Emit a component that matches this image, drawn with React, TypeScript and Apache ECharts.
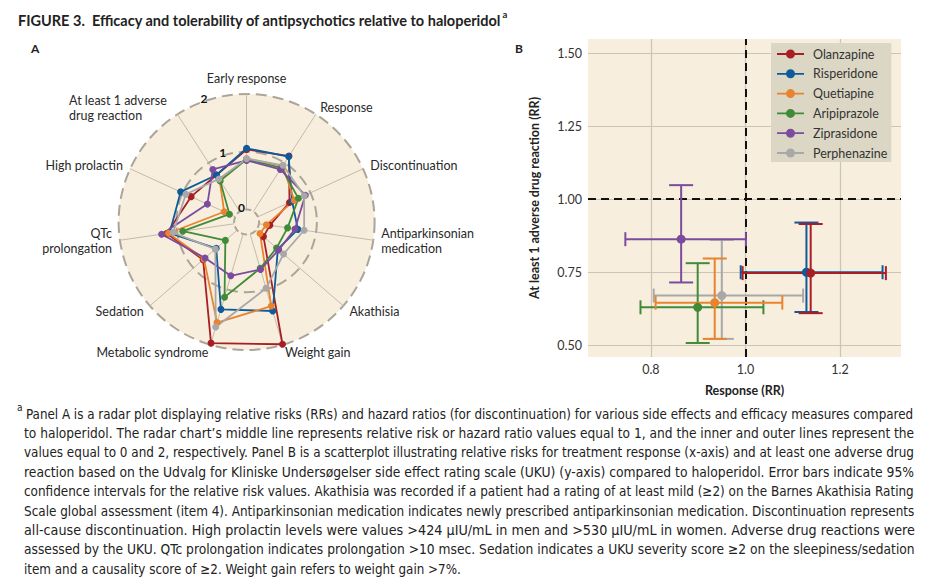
import React, { useEffect, useRef } from 'react';
import * as echarts from 'echarts';

// ---------- data ----------
const drugs = ['Olanzapine', 'Risperidone', 'Quetiapine', 'Aripiprazole', 'Ziprasidone', 'Perphenazine'];
const drugColors = ['#a81e25', '#0d5b9b', '#e8832f', '#408b37', '#7b4c9d', '#a8a8a8'];

// clockwise from the top
const radarAxes = [
  'Early response', 'Response', 'Discontinuation', 'Antiparkinsonian\nmedication', 'Akathisia',
  'Weight gain', 'Metabolic syndrome', 'Sedation', 'QTc\nprolongation', 'High prolactin',
  'At least 1 adverse\ndrug reaction',
];
const olanzapineRadar = [1.04, 1.14, 0.60, 0.19, 0.17, 1.99, 1.97, 0.78, 1.18, 0.84, 0.75];
const risperidoneRadar = [1.06, 1.13, 0.65, 0.68, 0.50, 1.39, 1.36, 0.48, 1.13, 1.04, 0.75];
const quetiapineRadar = [0.88, 0.94, 0.69, 0.13, 0.09, 1.30, 1.60, 0.76, 1.15, 0.21, 0.645];
const aripiprazoleRadar = [0.87, 0.90, 0.77, 0.50, 0.47, 0.62, 1.14, 0.27, 0.90, 0.11, 0.63];
const ziprasidoneRadar = [0.85, 0.865, 0.90, 0.63, 0.52, 0.64, 0.755, 0.735, 1.27, 0.53, 0.865];
const perphenazineRadar = [0.88, 0.95, 0.88, 0.79, 0.63, 0.98, 1.68, 0.50, 1.07, 0.94, 0.67];
const radarRings = [0, 1, 2];

const responseRR = [1.138, 1.129, 0.935, 0.899, 0.864, 0.950];
const responseLow = [0.994, 0.990, 0.810, 0.778, 0.746, 0.806];
const responseHigh = [1.297, 1.290, 1.078, 1.038, 1.001, 1.122];
const adrRR = [0.747, 0.750, 0.646, 0.630, 0.863, 0.670];
const adrLow = [0.610, 0.614, 0.522, 0.508, 0.715, 0.522];
const adrHigh = [0.915, 0.920, 0.797, 0.781, 1.048, 0.861];

const titleText = 'FIGURE 3.  Efficacy and tolerability of antipsychotics relative to haloperidol';
const captionLines = [
  'Panel A is a radar plot displaying relative risks (RRs) and hazard ratios (for discontinuation) for various side effects and efficacy measures compared',
  'to haloperidol. The radar chart\u2019s middle line represents relative risk or hazard ratio values equal to 1, and the inner and outer lines represent the',
  'values equal to 0 and 2, respectively. Panel B is a scatterplot illustrating relative risks for treatment response (x-axis) and at least one adverse drug',
  'reaction based on the Udvalg for Kliniske Unders\u00f8gelser side effect rating scale (UKU) (y-axis) compared to haloperidol. Error bars indicate 95%',
  'confidence intervals for the relative risk values. Akathisia was recorded if a patient had a rating of at least mild (\u22652) on the Barnes Akathisia Rating',
  'Scale global assessment (item 4). Antiparkinsonian medication indicates newly prescribed antiparkinsonian medication. Discontinuation represents',
  'all-cause discontinuation. High prolactin levels were values >424 \u03bcIU/mL in men and >530 \u03bcIU/mL in women. Adverse drug reactions were',
  'assessed by the UKU. QTc prolongation indicates prolongation >10 msec. Sedation indicates a UKU severity score \u22652 on the sleepiness/sedation',
  'item and a causality score of \u22652. Weight gain refers to weight gain >7%.',
];

// ---------- layout ----------
const W = 933;
const H = 581;
const BEIGE = '#f8eedd';
const FONT = 'Lato, "Open Sans", sans-serif';
const CAP_FONT = '"Liberation Sans Narrow", "DejaVu Sans Condensed", Lato, sans-serif';
const RC = [246.6, 222];
const RR = 128;
const RMIN = -0.2165;
const RMAX = 2;
const rOf = (v: number) => (RR * (v - RMIN)) / (RMAX - RMIN);

function measure(text: string, font: string) {
  const c = document.createElement('canvas').getContext('2d');
  if (!c) return text.length * 6;
  c.font = font;
  return c.measureText(text).width;
}

const legendIcon = 'path://M0,3.6H27V5.4H0Z M9,4.5A4.5,4.5,0,1,1,18,4.5A4.5,4.5,0,1,1,9,4.5Z';

export default function App() {
  const ref = useRef<HTMLDivElement>(null);
  useEffect(() => {
    if (!ref.current) return;
    const chart = echarts.init(ref.current, undefined, { renderer: 'svg' });

    // ECharts lays radar indicators out counter-clockwise; reorder to go clockwise.
    const n = radarAxes.length;
    const order = radarAxes.map((_, k) => (k === 0 ? 0 : n - k));
    const reorder = (arr: any[]) => order.map((k) => arr[k]);

    const radarSeriesData = [olanzapineRadar, risperidoneRadar, quetiapineRadar, aripiprazoleRadar, ziprasidoneRadar, perphenazineRadar]
      .map((vals, i) => ({
        name: drugs[i],
        value: reorder(vals),
        lineStyle: { color: drugColors[i], width: 1.8 },
        itemStyle: { color: drugColors[i] },
      }));

    const graphics: any[] = [];
    // radar disc background
    graphics.push({
      type: 'circle', z: -1,
      shape: { cx: RC[0], cy: RC[1], r: RR },
      style: { fill: BEIGE, stroke: 'none' },
    });
    graphics.push({
      type: 'circle', z: 2,
      shape: { cx: RC[0], cy: RC[1], r: rOf(radarRings[0]) },
      style: { fill: BEIGE, stroke: '#aba599', lineWidth: 2, lineDash: [6, 3.5] },
    });
    graphics.push({
      type: 'circle', z: 2,
      shape: { cx: RC[0], cy: RC[1], r: rOf(radarRings[1]) },
      style: { fill: 'none', stroke: '#aba599', lineWidth: 2, lineDash: [11, 6] },
    });
    const ang = (19 * Math.PI) / 180;
    radarRings.forEach((v) => {
      const rr = rOf(v) + 3;
      graphics.push({
        type: 'text', z: 5,
        x: RC[0] - rr * Math.sin(ang), y: RC[1] - rr * Math.cos(ang),
        style: { text: String(v), font: `bold 12px ${FONT}`, fill: '#111', align: 'center', verticalAlign: 'middle' },
      });
    });

    // title
    const titleFont = `bold 14.5px ${FONT}`;
    const tw = measure(titleText, titleFont);
    graphics.push({ type: 'text', x: 18, y: 20, style: { text: titleText, font: titleFont, fill: '#222', verticalAlign: 'middle' } });
    graphics.push({ type: 'text', x: 18 + tw + 1, y: 14, style: { text: 'a', font: `bold 9.5px ${FONT}`, fill: '#222', verticalAlign: 'middle' } });
    graphics.push({ type: 'text', x: 31, y: 48, style: { text: 'A', font: `bold 12px ${FONT}`, fill: '#222', verticalAlign: 'middle' } });
    graphics.push({ type: 'text', x: 515, y: 48, style: { text: 'B', font: `bold 12px ${FONT}`, fill: '#222', verticalAlign: 'middle' } });

    // caption (justified by stretching each full line to the column width)
    const capFont = `14px ${CAP_FONT}`;
    graphics.push({ type: 'text', x: 17, y: 407, style: { text: 'a', font: `10px ${CAP_FONT}`, fill: '#222', verticalAlign: 'middle' } });
    const firstScale = (915 - 26) / measure(captionLines[0], capFont);
    captionLines.forEach((line, i) => {
      const left = i === 0 ? 26 : 24;
      const right = 915;
      const last = i === captionLines.length - 1;
      const sx = last ? firstScale : (right - left) / measure(line, capFont);
      graphics.push({
        type: 'text', x: left, y: 413.5 + i * 19.4, scaleX: sx,
        style: { text: line, font: capFont, fill: '#222', verticalAlign: 'middle' },
      });
    });

    const errorSeries = drugs.map((d, i) => ({
      type: 'custom',
      name: d,
      xAxisIndex: 0, yAxisIndex: 0,
      z: 2 + (drugs.length - i) * 0.01,
      data: [[responseRR[i], adrRR[i], responseLow[i], responseHigh[i], adrLow[i], adrHigh[i]]],
      encode: { x: 0, y: 1 },
      itemStyle: { color: drugColors[i] },
      renderItem: (params: any, api: any) => {
        const x = api.value(0), y = api.value(1);
        const pl = api.coord([api.value(2), y]);
        const pr = api.coord([api.value(3), y]);
        const pb = api.coord([x, api.value(4)]);
        const pt = api.coord([x, api.value(5)]);
        const style = { stroke: drugColors[i], lineWidth: 2, fill: 'none' };
        const hc = 7, vc = 12;
        const ln = (x1: number, y1: number, x2: number, y2: number) => ({ type: 'line', shape: { x1, y1, x2, y2 }, style });
        return {
          type: 'group',
          children: [
            ln(pl[0], pl[1], pr[0], pr[1]),
            ln(pl[0], pl[1] - hc, pl[0], pl[1] + hc),
            ln(pr[0], pr[1] - hc, pr[0], pr[1] + hc),
            ln(pb[0], pb[1], pt[0], pt[1]),
            ln(pb[0] - vc, pb[1], pb[0] + vc, pb[1]),
            ln(pt[0] - vc, pt[1], pt[0] + vc, pt[1]),
          ],
        };
      },
    }));
    const pointSeries = drugs.map((d, i) => ({
      type: 'scatter',
      name: d,
      z: 4 + (drugs.length - i) * 0.01,
      symbol: 'circle',
      symbolSize: 9,
      itemStyle: { color: drugColors[i], opacity: 1 },
      data: [[responseRR[i], adrRR[i]]],
      ...(i === 0
        ? {
            markLine: {
              silent: true,
              symbol: ['none', 'none'],
              label: { show: false },
              lineStyle: { color: '#111', type: [8, 5], width: 2 },
              data: [{ xAxis: 1 }, { yAxis: 1 }],
              z: 1,
            },
          }
        : {}),
    }));

    const option: any = {
      animation: false,
      backgroundColor: '#ffffff',
      textStyle: { fontFamily: FONT },
      radar: {
        center: RC,
        radius: RR,
        startAngle: 90,
        shape: 'circle',
        splitNumber: 1,
        z: 1,
        nameGap: 8,
        indicator: reorder(radarAxes).map((nm: string) => ({ name: nm, min: RMIN, max: RMAX })),
        axisName: {
          color: '#2a2a2a',
          fontSize: 12.5,
          fontFamily: FONT,
          lineHeight: 15,
          formatter: (name: string) =>
            name.indexOf('At least') === 0 ? name.split('\n').map((s) => `{l|${s}}`).join('\n') : name,
          rich: { l: { width: 104, align: 'left', fontSize: 12.5, fontFamily: FONT, color: '#2a2a2a', lineHeight: 15 } },
        },
        axisLine: { lineStyle: { color: '#c2bbad', width: 1 } },
        axisTick: { show: false },
        axisLabel: { show: false },
        splitLine: { lineStyle: { color: '#aba599', width: 2, type: [11, 6] } },
        splitArea: { show: false },
      },
      grid: { left: 588, top: 39, width: 313, height: 318, show: true, backgroundColor: BEIGE, borderWidth: 0 },
      xAxis: {
        type: 'value', min: 0.667, max: 1.329, minInterval: 0.2, maxInterval: 0.2,
        name: 'Response (RR)', nameLocation: 'middle', nameGap: 27,
        nameTextStyle: { fontWeight: 'bold', fontSize: 12.5, color: '#222', fontFamily: FONT },
        axisLine: { show: false }, axisTick: { show: false },
        axisLabel: { color: '#333', fontSize: 12.5, fontFamily: FONT, showMinLabel: false, showMaxLabel: false, formatter: (v: number) => v.toFixed(1), margin: 6 },
        splitLine: { show: true, showMinLine: false, showMaxLine: false, lineStyle: { color: '#cbc4b7', width: 1.2 } },
      },
      yAxis: {
        type: 'value', min: 0.46, max: 1.548, minInterval: 0.25, maxInterval: 0.25,
        name: 'At least 1 adverse drug reaction (RR)', nameLocation: 'middle', nameGap: 47, nameRotate: 90,
        nameTextStyle: { fontWeight: 'bold', fontSize: 12.5, color: '#222', fontFamily: FONT },
        axisLine: { show: false }, axisTick: { show: false },
        axisLabel: { color: '#333', fontSize: 12.5, fontFamily: FONT, showMinLabel: false, showMaxLabel: false, formatter: (v: number) => v.toFixed(2), margin: 6 },
        splitLine: { show: true, showMinLine: false, showMaxLine: false, lineStyle: { color: '#cbc4b7', width: 1.2 } },
      },
      legend: {
        left: 771, top: 43, orient: 'vertical',
        backgroundColor: '#dcd7c4',
        padding: [4, 4, 2, 6],
        itemWidth: 27, itemHeight: 9, itemGap: 5.8,
        textStyle: { fontSize: 12.5, color: '#333', fontFamily: FONT, lineHeight: 14, padding: [0, 0, 0, 4] },
        data: drugs.map((d) => ({ name: d, icon: legendIcon })),
      },
      series: [
        {
          type: 'radar',
          symbol: 'circle',
          symbolSize: 7,
          z: 3,
          data: radarSeriesData,
        },
        ...errorSeries,
        ...pointSeries,
      ],
      graphic: { elements: graphics },
    };
    chart.setOption(option);
    return () => chart.dispose();
  }, []);
  return <div ref={ref} style={{ position: 'absolute', left: 0, top: 0, width: W, height: H }} />;
}
